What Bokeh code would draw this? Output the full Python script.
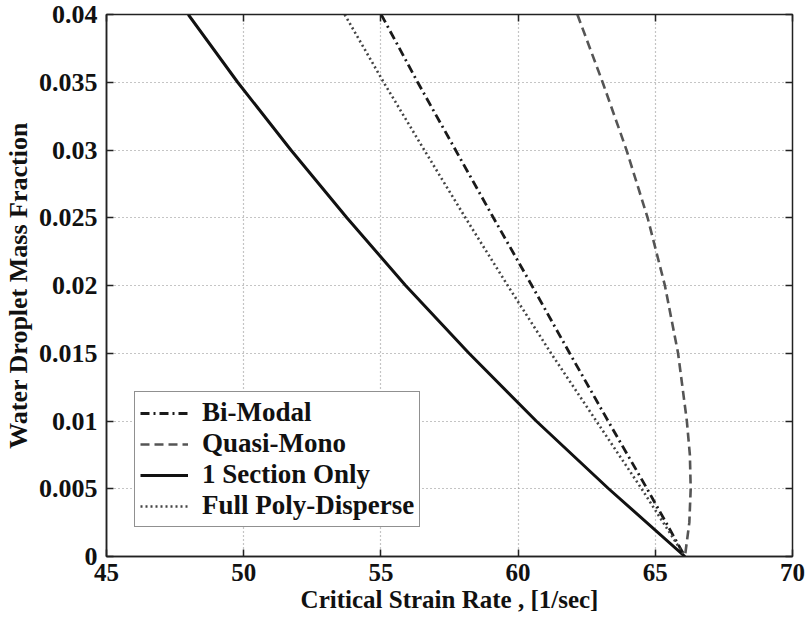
from bokeh.plotting import figure
from bokeh.models import Legend, LegendItem, LinearAxis, FixedTicker, Range1d
from bokeh.embed import file_html
from bokeh.resources import INLINE

# ---- data ----
y_main = [0.04, 0.035, 0.03, 0.025, 0.02, 0.015, 0.01, 0.005, 0.0]
x_bimodal = [55.01, 56.34, 57.72, 59.10, 60.50, 61.88, 63.28, 64.70, 66.08]
x_single = [47.98, 49.78, 51.72, 53.76, 55.90, 58.21, 60.66, 63.30, 66.08]
x_poly = [53.68, 55.10, 56.58, 58.08, 59.62, 61.20, 62.85, 64.50, 66.08]
y_quasi = [0.04, 0.035, 0.03, 0.025, 0.02, 0.015, 0.01, 0.0075, 0.005, 0.0025, 0.0]
x_quasi = [62.16, 63.08, 63.95, 64.72, 65.35, 65.83, 66.15, 66.26, 66.29, 66.24, 66.08]

x_ticks = [45, 50, 55, 60, 65, 70]
x_tick_labels = ["45", "50", "55", "60", "65", "70"]
y_ticks = [0.0, 0.005, 0.01, 0.015, 0.02, 0.025, 0.03, 0.035, 0.04]
y_tick_labels = ["0", "0.005", "0.01", "0.015", "0.02", "0.025", "0.03", "0.035", "0.04"]

FONT = "Liberation Serif"

p = figure(width=808, height=624, output_backend="svg", toolbar_location=None,
           x_range=Range1d(45, 70), y_range=Range1d(0, 0.04),
           min_border_left=103, min_border_right=16, min_border_top=14, min_border_bottom=68)
p.background_fill_color = "white"
p.border_fill_color = "white"
p.outline_line_color = "#222222"
p.outline_line_width = 1.5

for ax in (p.xaxis[0], p.yaxis[0]):
    ax.major_tick_in = 7
    ax.major_tick_out = 0
    ax.minor_tick_in = 0
    ax.minor_tick_out = 0
    ax.axis_line_color = "#222222"
    ax.axis_line_width = 1.5
    ax.major_tick_line_color = "#222222"
    ax.major_tick_line_width = 1.5
    ax.major_label_text_font = FONT
    ax.major_label_text_font_style = "bold"
    ax.major_label_text_font_size = "26px"
    ax.major_label_text_color = "#111111"
    ax.axis_label_text_font = FONT
    ax.axis_label_text_font_style = "bold"
    ax.axis_label_text_font_size = "26px"
    ax.axis_label_text_color = "#111111"

p.xaxis[0].ticker = FixedTicker(ticks=x_ticks)
p.xaxis[0].major_label_overrides = dict(zip(x_ticks, x_tick_labels))
p.xaxis[0].major_label_text_font_size = "25px"
p.xaxis[0].axis_label_text_font_size = "25px"
p.xaxis[0].major_label_standoff = 7
p.xaxis[0].axis_label_standoff = 2
p.xaxis[0].axis_label = "Critical Strain Rate , [1/sec]"

p.yaxis[0].ticker = FixedTicker(ticks=y_ticks)
p.yaxis[0].major_label_overrides = dict(zip(y_ticks, y_tick_labels))
p.yaxis[0].major_label_standoff = 9
p.yaxis[0].axis_label = "Water Droplet Mass Fraction"
p.yaxis[0].axis_label_standoff = 3

# mirrored axes (top/right) with inward ticks, no labels
top = LinearAxis(ticker=FixedTicker(ticks=x_ticks),
                 major_label_overrides={t: "" for t in x_ticks},
                 major_tick_in=7, major_tick_out=0, minor_tick_in=0, minor_tick_out=0,
                 axis_line_color="#222222", major_tick_line_color="#222222", major_tick_line_width=1.5)
right = LinearAxis(ticker=FixedTicker(ticks=y_ticks),
                   major_label_overrides={t: "" for t in y_ticks},
                   major_tick_in=7, major_tick_out=0, minor_tick_in=0, minor_tick_out=0,
                   axis_line_color="#222222", major_tick_line_color="#222222", major_tick_line_width=1.5)
p.add_layout(top, "above")
p.add_layout(right, "right")

p.xgrid.ticker = FixedTicker(ticks=x_ticks)
p.ygrid.ticker = FixedTicker(ticks=y_ticks)
for g in (p.xgrid[0], p.ygrid[0]):
    g.grid_line_color = "#8a8a8a"
    g.grid_line_dash = "1 3"
    g.grid_line_width = 1.2

r_bi = p.line(x_bimodal, y_main, line_color="#1a1a1a", line_width=2.8, line_dash="9 4 2 4")
r_qm = p.line(x_quasi, y_quasi, line_color="#555555", line_width=2.6, line_dash="9 5")
r_so = p.line(x_single, y_main, line_color="#111111", line_width=3.0)
r_fp = p.line(x_poly, y_main, line_color="#444444", line_width=2.6, line_dash="2 3")

legend = Legend(items=[
    LegendItem(label="Bi-Modal", renderers=[r_bi]),
    LegendItem(label="Quasi-Mono", renderers=[r_qm]),
    LegendItem(label="1 Section Only", renderers=[r_so]),
    LegendItem(label="Full Poly-Disperse", renderers=[r_fp]),
], location=(28, 29))
legend.label_text_font = FONT
legend.label_text_font_style = "bold"
legend.label_text_font_size = "27px"
legend.label_text_color = "#111111"
legend.glyph_width = 48
legend.glyph_height = 20
legend.label_height = 20
legend.label_standoff = 14
legend.spacing = 0
legend.padding = 5
legend.margin = 0
legend.border_line_color = "#222222"
legend.border_line_width = 1.5
legend.background_fill_alpha = 1.0
p.add_layout(legend, "center")

open("out.html", "w").write(file_html(p, INLINE))
